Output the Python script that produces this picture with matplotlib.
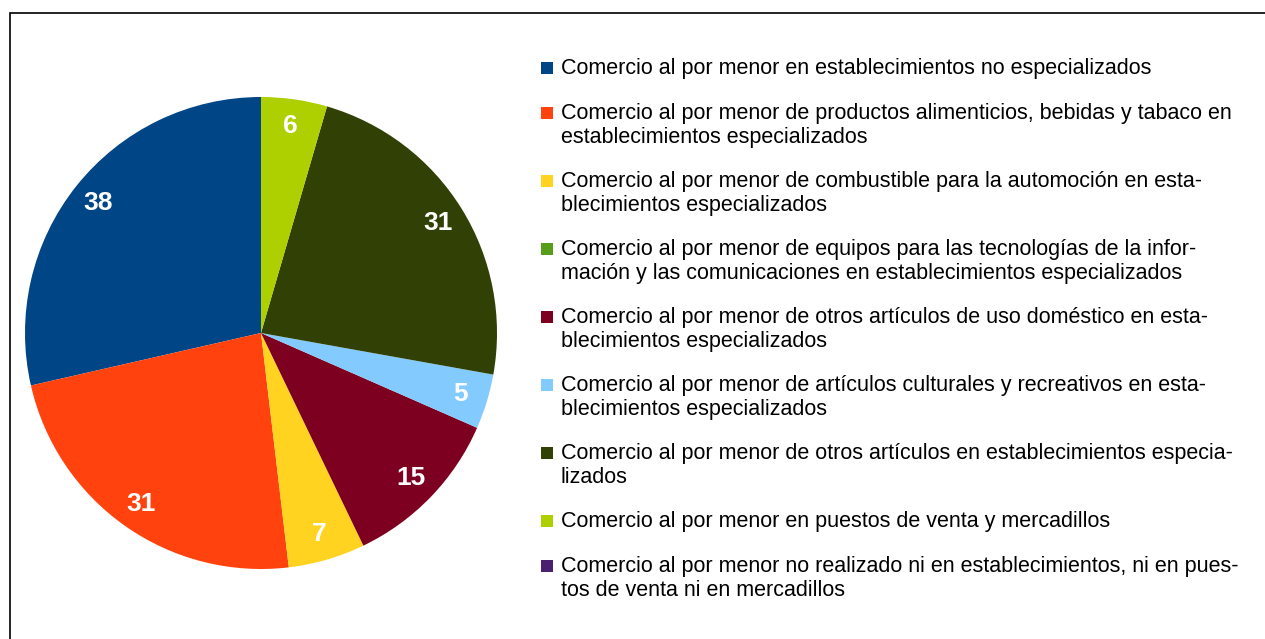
import matplotlib.pyplot as plt
from matplotlib.patches import Rectangle

W, H, DPI = 1265, 639, 100

# data, in drawing order (counterclockwise from 12 o'clock)
values = [38, 31, 7, 0, 15, 5, 31, 6, 0]
colors = ["#004586", "#ff420e", "#ffd320", "#579d1c", "#7e0021",
          "#83caff", "#314004", "#aecf00", "#4b1f6f"]
legend_labels = [
    "Comercio al por menor en establecimientos no especializados",
    "Comercio al por menor de productos alimenticios, bebidas y tabaco en\nestablecimientos especializados",
    "Comercio al por menor de combustible para la automoción en esta-\nblecimientos especializados",
    "Comercio al por menor de equipos para las tecnologías de la infor-\nmación y las comunicaciones en establecimientos especializados",
    "Comercio al por menor de otros artículos de uso doméstico en esta-\nblecimientos especializados",
    "Comercio al por menor de artículos culturales y recreativos en esta-\nblecimientos especializados",
    "Comercio al por menor de otros artículos en establecimientos especia-\nlizados",
    "Comercio al por menor en puestos de venta y mercadillos",
    "Comercio al por menor no realizado ni en establecimientos, ni en pues-\ntos de venta ni en mercadillos",
]
legend_y = [68, 113, 181, 249, 317, 385, 453, 521, 566]  # first-line centres, px from top

plt.rcParams["font.family"] = ["Liberation Sans", "DejaVu Sans"]

fig = plt.figure(figsize=(W / DPI, H / DPI), dpi=DPI)
fig.patch.set_facecolor("white")

# outer frame (right and bottom edges fall outside the canvas)
fig.add_artist(Rectangle((9.5 / W, -0.1), 1.2, (H - 13.5) / H + 0.1,
                         transform=fig.transFigure, facecolor="none",
                         edgecolor="black", linewidth=1.2))

# pie
cx, cy, r = 261, 333, 236
ax = fig.add_axes([(cx - r) / W, (H - cy - r) / H, 2 * r / W, 2 * r / H])
ax.set_aspect("equal")
ax.axis("off")

labels = [str(v) if v > 0 else "" for v in values]
wedges, texts = ax.pie(values, colors=colors, startangle=90, counterclock=True,
                       labels=labels, labeldistance=0.885, radius=1.0,
                       wedgeprops=dict(linewidth=0))
for t in texts:
    t.set_color("white")
    t.set_fontweight("bold")
    t.set_fontsize(19)
    t.set_ha("center")
    t.set_va("center")
ax.set_xlim(-1, 1)
ax.set_ylim(-1, 1)

# legend drawn by hand so the swatch sits on the first line
for lab, col, y in zip(legend_labels, colors, legend_y):
    fig.add_artist(Rectangle((541 / W, (H - y - 6) / H), 12 / W, 12 / H,
                             transform=fig.transFigure, facecolor=col,
                             edgecolor="none"))
    fig.text(561 / W, (H - y + 10) / H, lab, ha="left", va="top",
             fontsize=15.5, color="black", linespacing=1.18)

fig.savefig("out.png", dpi=DPI, facecolor="white")
